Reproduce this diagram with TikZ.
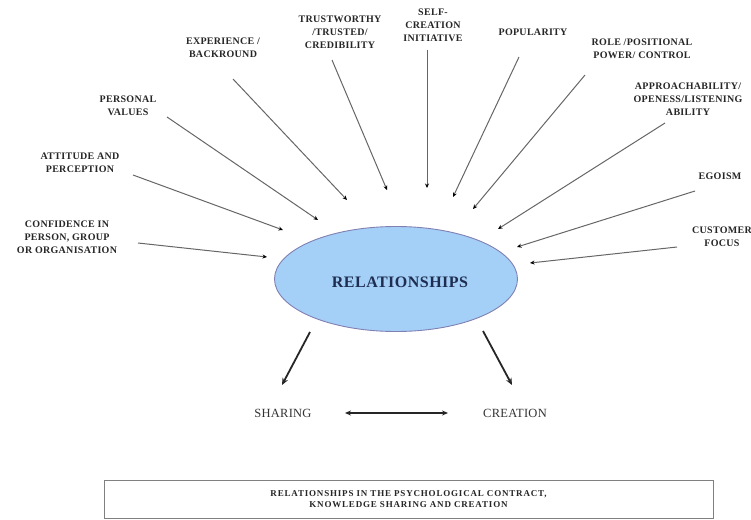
\documentclass[tikz,border=0pt]{standalone}
\usepackage{fontspec}
\setmainfont{Liberation Serif}
\usetikzlibrary{arrows.meta,shapes.geometric}
\begin{document}
\begin{tikzpicture}[x=1pt,y=-1pt,
  lbl/.style={font=\fontsize{10}{13}\selectfont\bfseries\addfontfeature{LetterSpace=3}, align=center, inner sep=0pt, text=black!85},
  feed/.style={draw=black!60, line width=1pt, -{Stealth[length=4.5pt,width=4pt,black]}},
  bigarrow/.style={draw=black!85, line width=1.8pt, -{Stealth[length=7pt,width=6pt]}},
  word/.style={font=\fontsize{12.5}{14}\selectfont\addfontfeature{LetterSpace=2}, inner sep=0pt, text=black!80}]
\useasboundingbox (0,0) rectangle (751,519);
% central ellipse
\node[ellipse, draw=black!60!blue!50, line width=0.9pt, fill={rgb,255:red,164;green,207;blue,247},
      minimum width=243pt, minimum height=105pt] (rel) at (396,279) {};
\node[font=\fontsize{16}{18}\selectfont\bfseries\addfontfeature{LetterSpace=3}, text={rgb,255:red,30;green,45;blue,80}, inner sep=0pt] (reltxt) at (400,282) {RELATIONSHIPS};
% labels
\node[lbl] (conf) at (67,237) {CONFIDENCE IN\\PERSON, GROUP\\OR ORGANISATION};
\node[lbl] (att) at (80,163) {ATTITUDE AND\\PERCEPTION};
\node[lbl] (pers) at (128,106) {PERSONAL\\VALUES};
\node[lbl] (exp) at (223,48) {EXPERIENCE /\\BACKROUND};
\node[lbl] (trust) at (340,32) {TRUSTWORTHY\\/TRUSTED/\\CREDIBILITY};
\node[lbl] (self) at (433,25) {SELF-\\CREATION\\INITIATIVE};
\node[lbl] (pop) at (533,32) {POPULARITY};
\node[lbl] (role) at (642,49) {ROLE /POSITIONAL\\POWER/ CONTROL};
\node[lbl] (appr) at (688,99) {APPROACHABILITY/\\OPENESS/LISTENING\\ABILITY};
\node[lbl] (ego) at (720,176) {EGOISM};
\node[lbl] (cust) at (722,237) {CUSTOMER\\FOCUS};
% line start/end coordinates
\coordinate (s1) at (138,243); \coordinate (e1) at (267,257);
\coordinate (s2) at (133,175); \coordinate (e2) at (283,230);
\coordinate (s3) at (167,117); \coordinate (e3) at (318,220);
\coordinate (s4) at (233,79);  \coordinate (e4) at (347,200);
\coordinate (s5) at (332,60);  \coordinate (e5) at (387,190);
\coordinate (s6) at (427,50);  \coordinate (e6) at (427,188);
\coordinate (s7) at (519,57);  \coordinate (e7) at (453,197);
\coordinate (s8) at (585,75);  \coordinate (e8) at (473,209);
\coordinate (s9) at (665,123); \coordinate (e9) at (498,229);
\coordinate (s10) at (695,191); \coordinate (e10) at (517,247);
\coordinate (s11) at (677,247); \coordinate (e11) at (530,263);
\foreach \i in {1,...,11} {\draw[feed] (s\i) -- (e\i);}
% bottom
\node[word] (share) at (283,413) {SHARING};
\node[word] (creat) at (515,413) {CREATION};
\coordinate (a1) at (310,332); \coordinate (b1) at (282,385);
\coordinate (a2) at (483,331); \coordinate (b2) at (512,385);
\draw[bigarrow] (a1) -- (b1);
\draw[bigarrow] (a2) -- (b2);
\coordinate (d1) at (345,413); \coordinate (d2) at (448,413);
\draw[draw=black!85, line width=1.6pt, {Stealth[length=6pt,width=5pt]}-{Stealth[length=6pt,width=5pt]}] (d1) -- (d2);
% caption box
\node[draw=black!50, line width=1pt, minimum width=609pt, minimum height=38pt, align=center,
      font=\fontsize{9}{11.5}\selectfont\bfseries\addfontfeature{LetterSpace=9}, text=black!85] (cap) at (408.5,499)
  {RELATIONSHIPS IN THE PSYCHOLOGICAL CONTRACT,\\KNOWLEDGE SHARING AND CREATION};
\end{tikzpicture}
\end{document}
